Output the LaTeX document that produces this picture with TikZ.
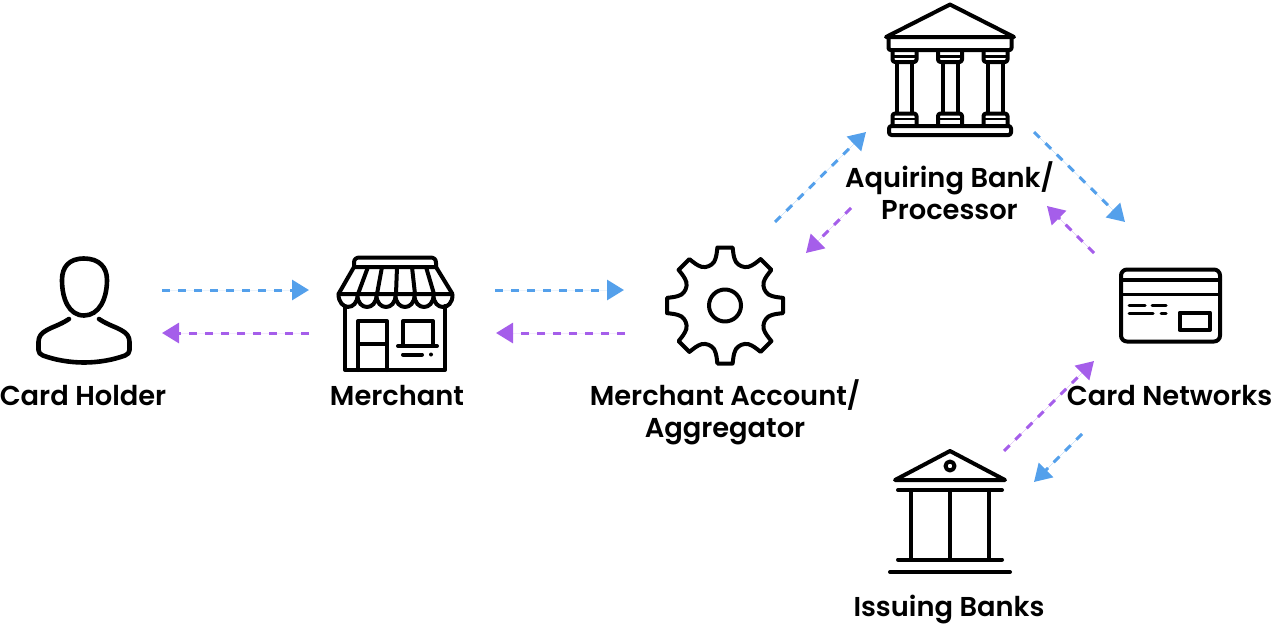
\documentclass[tikz,border=0pt]{standalone}
\usepackage{fontspec}
\setmainfont{Poppins}[UprightFont=* SemiBold,BoldFont=* SemiBold]
\usetikzlibrary{arrows.meta}
\definecolor{flowblue}{HTML}{54A0EB}
\definecolor{flowpurple}{HTML}{A55EEA}
\tikzset{
  icon/.style={line width=4pt,line join=round,line cap=round,draw=black},
  thinicon/.style={line width=3pt,line join=round,line cap=round,draw=black},
  flow/.style={line width=3pt,dash pattern=on 8pt off 8pt,-{Triangle[length=17pt,width=20pt]}},
  fwd/.style={flow,draw=flowblue,fill=flowblue},
  back/.style={flow,draw=flowpurple,fill=flowpurple},
  label/.style={font=\fontsize{27.3}{32.3}\selectfont,align=center,text=black,inner sep=0pt,anchor=center}
}
\begin{document}
\begin{tikzpicture}[x=1pt,y=-1pt]
\useasboundingbox (0,0) rectangle (1276,632);
% ---------- Person
\draw[icon,line width=4.6pt] (84,258.5) .. controls (69,258.5) and (62,267) .. (62,280)
   .. controls (62,299) and (69,315.5) .. (84,315.5)
   .. controls (99,315.5) and (107,299) .. (107,280)
   .. controls (107,267) and (99,258.5) .. (84,258.5) -- cycle;
\draw[icon,line width=4.6pt] (69,319) .. controls (60,325) and (52,327) .. (47,330)
   .. controls (41,333) and (38.5,337) .. (38.5,342)
   -- (38.5,350) .. controls (38.5,353) and (40,354) .. (43,355.5)
   .. controls (55,360) and (70,362.5) .. (84,362.5)
   .. controls (98,362.5) and (113,360) .. (125,355.5)
   .. controls (128,354) and (129.5,353) .. (129.5,350)
   -- (129.5,342) .. controls (129.5,337) and (127,333) .. (121,330)
   .. controls (116,327) and (108,325) .. (99,319);
% ---------- Store
\draw[icon] (354,267) -- (354,263) .. controls (354,259) and (356,257.5) .. (360,257.5) -- (430,257.5)
   .. controls (434,257.5) and (436,259) .. (436,263) -- (436,267) -- cycle;
\draw[icon] (354,267) -- (338.5,294) -- (452.5,294) -- (436,267);
\foreach \t/\b in {368/358,382/377,397/396,412/415,426/434}{
  \draw[icon] (\t,267) -- (\b,294);}
\draw[icon] (338.5,294)
  \foreach \k in {0,...,5}{
    .. controls ({338.5+19*\k},{311}) and ({338.5+19*(\k+1)},{311}) .. ({338.5+19*(\k+1)},{295})
  };
\draw[icon] (345,306) -- (345,370) -- (445,370) -- (445,306);
\draw[icon] (358,370) -- (358,321) -- (387,321) -- (387,370);
\draw[icon] (358,343.5) -- (387,343.5);
\draw[icon] (403,344) -- (403,321) -- (433,321) -- (433,344);
\draw[icon] (398,346) -- (437,346);
\draw[icon] (403,354.5) -- (422,354.5);
\fill (431,354.5) circle[radius=2];
% ---------- Gear
\begin{scope}[shift={(725,305.5)}]
\draw[icon] (0,0) circle[radius=16];
\draw[icon]
  \foreach \a in {0,45,...,315}{
    ({\a-7.5}:58.5) -- ({\a+7.5}:58.5)
    .. controls ({\a+9}:53) and ({\a+10}:49) .. ({\a+14}:45)
    .. controls ({\a+19}:42) and ({\a+26}:42) .. ({\a+31}:45)
    .. controls ({\a+35}:49) and ({\a+36}:53) .. ({\a+37.5}:58.5)
  };
\end{scope}
% ---------- Acquiring bank
\draw[icon] (886,37) -- (950,4.5) -- (1014,37) -- cycle;
\draw[icon,rounded corners=2pt] (888.5,37) -- (888.5,50) -- (1011.5,50) -- (1011.5,37);
\foreach \c in {904.5,950,995.5}{
  \draw[icon,rounded corners=2.5pt] (\c-12,50) -- (\c-12,62) -- (\c+12,62) -- (\c+12,50);
  \draw[thinicon,line width=2.6pt] (\c-12,56.5) -- (\c+12,56.5);
  \draw[icon] (\c-7.5,62) -- (\c-7.5,113) (\c+7.5,62) -- (\c+7.5,113);
  \draw[icon,rounded corners=2.5pt] (\c-12,126) -- (\c-12,113.5) -- (\c+12,113.5) -- (\c+12,126);
  \draw[thinicon,line width=2.6pt] (\c-12,119) -- (\c+12,119);
}
\draw[icon,rounded corners=2.5pt] (889,126) rectangle (1011,135);
% ---------- Card
\draw[icon,rounded corners=6pt] (1121,269.5) rectangle (1220,341.5);
\draw[icon] (1121,279.5) -- (1220,279.5);
\draw[thinicon] (1121,294) -- (1220,294);
\draw[thinicon] (1129,305) -- (1145,305) (1152,305) -- (1166,305)
   (1129,313) -- (1153,313) (1161,313) -- (1166,313);
\draw[icon] (1179.5,312.5) rectangle (1210,330);
% ---------- Issuing bank
\draw[icon] (895,480) -- (950,451) -- (1005,480) -- cycle;
\draw[icon] (950,466) circle[radius=4.5];
\draw[icon] (898,490) -- (1002,490);
\draw[icon] (911,490) -- (911,559) (950,490) -- (950,559) (989,490) -- (989,559);
\draw[icon] (898,559.5) -- (1002,559.5);
\draw[icon] (890,572) -- (1010,572);
% ---------- Labels
\node[label] (holder) at (83,396) {Card Holder};
\node[label] (merchant) at (397,396) {Merchant};
\node[label] (account) at (725,412.5) {Merchant Account/\\Aggregator};
\node[label] (acquiring) at (949.5,190.5) {Aquiring Bank/\\Processor};
\node[label] (networks) at (1169.5,396) {Card Networks};
\node[label] (issuing) at (949,609.5) {Issuing Banks};
% ---------- Connector ends
\coordinate (a1) at (162,290); \coordinate (a2) at (309,290);
\coordinate (b1) at (309,333); \coordinate (b2) at (162,333);
\coordinate (c1) at (495,290); \coordinate (c2) at (624,290);
\coordinate (d1) at (625,333); \coordinate (d2) at (496,333);
\coordinate (e1) at (775,222); \coordinate (e2) at (866,132);
\coordinate (f1) at (851,208); \coordinate (f2) at (806,253);
\coordinate (g1) at (1034,132); \coordinate (g2) at (1125,222);
\coordinate (h1) at (1094,253); \coordinate (h2) at (1047,206);
\coordinate (i1) at (1004,451); \coordinate (i2) at (1094,361);
\coordinate (j1) at (1082,434); \coordinate (j2) at (1034,482);
\draw[fwd] (a1) -- (a2);
\draw[back] (b1) -- (b2);
\draw[fwd] (c1) -- (c2);
\draw[back] (d1) -- (d2);
\draw[fwd] (e1) -- (e2);
\draw[back] (f1) -- (f2);
\draw[fwd] (g1) -- (g2);
\draw[back] (h1) -- (h2);
\draw[back] (i1) -- (i2);
\draw[fwd] (j1) -- (j2);
\end{tikzpicture}
\end{document}
